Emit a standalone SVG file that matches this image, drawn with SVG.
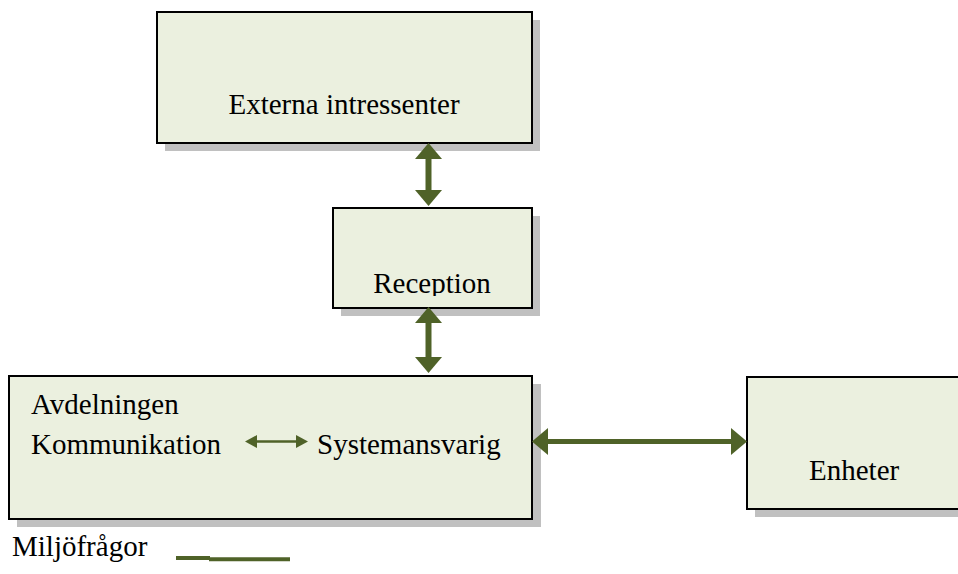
<svg xmlns="http://www.w3.org/2000/svg" width="958" height="574" viewBox="0 0 958 574">
<style>
.box{fill:#ebf0df;stroke:#000;stroke-width:2}
.shadow{fill:#c0c0c0}
.t{font-family:"Liberation Serif","Times New Roman",serif;font-size:29px;fill:#000}
.conn{stroke:#4f6228;fill:none}
</style>
<defs>
<marker id="big" markerUnits="userSpaceOnUse" markerWidth="16" markerHeight="27" refX="6" refY="13.5" orient="auto-start-reverse" viewBox="0 0 16 27">
<path d="M0,0 L16,13.5 L0,27 z" fill="#4f6228"/>
</marker>
<marker id="small" markerUnits="userSpaceOnUse" markerWidth="12" markerHeight="13" refX="6" refY="6.5" orient="auto-start-reverse" viewBox="0 0 12 13">
<path d="M0,0 L12,6.5 L0,13 z" fill="#4f6228"/>
</marker>
<clipPath id="recClip"><rect x="333" y="208" width="199" height="88"/></clipPath>
</defs>
<rect width="958" height="574" fill="#fff"/>

<g id="externa">
<rect class="shadow" x="165" y="20" width="375" height="131"/>
<rect class="box" x="157" y="12" width="375" height="131"/>
<text class="t" x="344" y="114" text-anchor="middle">Externa intressenter</text>
</g>

<g id="reception">
<rect class="shadow" x="341" y="216" width="199" height="100"/>
<rect class="box" x="333" y="208" width="199" height="100"/>
<text class="t" x="432" y="293" text-anchor="middle" clip-path="url(#recClip)">Reception</text>
</g>

<g id="avdelningen">
<rect class="shadow" x="17" y="384" width="524" height="143"/>
<rect class="box" x="9" y="376" width="523" height="143"/>
<text class="t" x="31" y="414">Avdelningen</text>
<text class="t" x="31" y="453.5">Kommunikation</text>
<text class="t" x="317" y="453.5">Systemansvarig</text>
</g>

<g id="enheter">
<rect class="shadow" x="755" y="385" width="260" height="132"/>
<rect class="box" x="747" y="377" width="260" height="132"/>
<text class="t" x="809" y="480">Enheter</text>
</g>

<g id="connectors">
<line class="conn" x1="428.5" y1="153" x2="428.5" y2="196" stroke-width="6" marker-start="url(#big)" marker-end="url(#big)"/>
<line class="conn" x1="428.5" y1="317" x2="428.5" y2="363" stroke-width="6" marker-start="url(#big)" marker-end="url(#big)"/>
<line class="conn" x1="542" y1="441.5" x2="737" y2="441.5" stroke-width="5" marker-start="url(#big)" marker-end="url(#big)"/>
<line class="conn" x1="251" y1="441.5" x2="302" y2="441.5" stroke-width="2.5" marker-start="url(#small)" marker-end="url(#small)"/>
</g>

<g id="legend">
<text class="t" x="12" y="556">Miljöfrågor</text>
<line class="conn" x1="176" y1="558" x2="210" y2="558" stroke-width="4"/>
<line class="conn" x1="209" y1="559.3" x2="290" y2="559.3" stroke-width="4"/>
</g>
</svg>
